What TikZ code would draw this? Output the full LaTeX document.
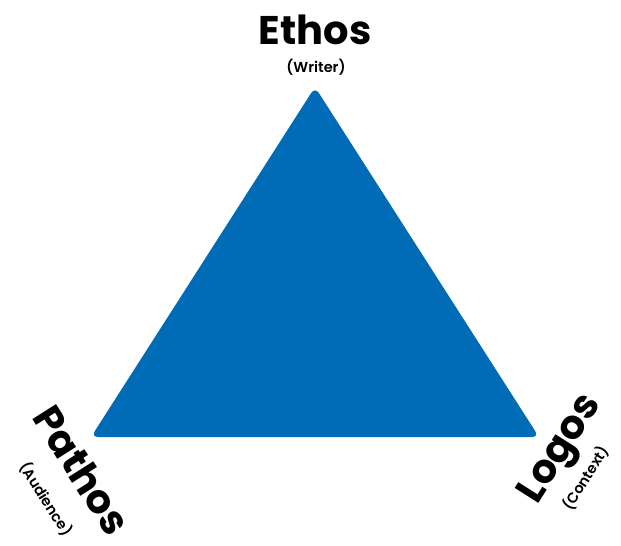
\documentclass[tikz,border=0pt]{standalone}
\usepackage{fontspec}
\setmainfont{Poppins}
\newfontfamily\rolefont{Poppins SemiBold}
\usetikzlibrary{positioning}
\definecolor{triblue}{RGB}{0,107,182}
\tikzset{
    appeal/.style={font=\bfseries\fontsize{40}{40}\selectfont, inner sep=0pt},
    role/.style={font=\rolefont\fontsize{14.5}{14.5}\selectfont, inner sep=0pt},
}

\begin{document}
\begin{tikzpicture}[x=1pt, y=-1pt]
    \useasboundingbox (0,0) rectangle (621,546);
    \coordinate (apex) at (315,87);
    \coordinate (bl) at (91,437);
    \coordinate (br) at (539,437);

    \fill [triblue, rounded corners=7pt] (apex) -- (br) -- (bl) -- cycle;

    \node (ethos) [appeal] at (315,30) {Ethos};
    \node (writer) [role] at (316,67) {(Writer)};

    \node (pathos) [appeal, rotate=-57.6] at (82,470) {Pathos};
    \node (audience) [role, rotate=-57.6] at (46,499) {(Audience)};

    \node (logos) [appeal, rotate=57.6] at (562,450) {Logos};
    \node (context) [role, rotate=57.6] at (586,478) {(Context)};
\end{tikzpicture}
\end{document}
